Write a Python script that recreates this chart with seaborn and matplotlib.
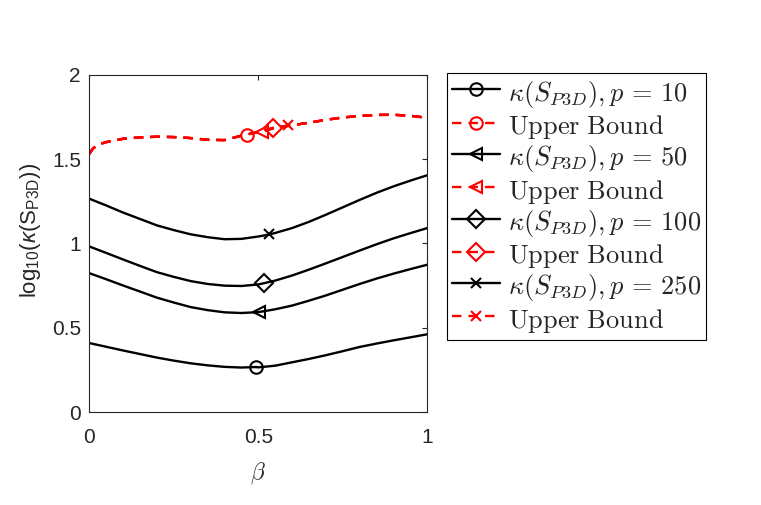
import numpy as np
import pandas as pd
import matplotlib
matplotlib.use('Agg')
import matplotlib.pyplot as plt
from matplotlib.font_manager import FontProperties
import seaborn as sns

# values
beta = [0.00, 0.05, 0.10, 0.15, 0.20, 0.25, 0.30, 0.35, 0.40, 0.45, 0.50,
        0.55, 0.60, 0.65, 0.70, 0.75, 0.80, 0.85, 0.90, 0.95, 1.00]
kappa_p10 = [0.410, 0.388, 0.366, 0.345, 0.324, 0.306, 0.290, 0.278, 0.269, 0.265, 0.266,
             0.276, 0.296, 0.316, 0.338, 0.362, 0.387, 0.407, 0.426, 0.444, 0.462]
kappa_p50 = [0.824, 0.788, 0.751, 0.715, 0.679, 0.650, 0.623, 0.605, 0.592, 0.588, 0.593,
             0.610, 0.632, 0.661, 0.692, 0.726, 0.760, 0.792, 0.821, 0.848, 0.874]
kappa_p100 = [0.982, 0.944, 0.905, 0.867, 0.830, 0.802, 0.777, 0.760, 0.750, 0.748, 0.757,
              0.780, 0.810, 0.845, 0.882, 0.920, 0.958, 0.995, 1.030, 1.061, 1.091]
kappa_p250 = [1.265, 1.225, 1.183, 1.145, 1.107, 1.079, 1.054, 1.037, 1.025, 1.027, 1.041,
              1.062, 1.091, 1.128, 1.170, 1.214, 1.258, 1.300, 1.338, 1.372, 1.404]

bound_beta = [0.00, 0.01, 0.025, 0.05, 0.10, 0.15, 0.20, 0.25, 0.30, 0.35, 0.40, 0.45, 0.50,
              0.55, 0.60, 0.65, 0.70, 0.75, 0.80, 0.85, 0.90, 0.95, 1.00]
upper_bound = [1.530, 1.560, 1.585, 1.600, 1.620, 1.628, 1.632, 1.630, 1.624, 1.614, 1.612,
               1.638, 1.660, 1.685, 1.700, 1.715, 1.732, 1.746, 1.755, 1.761, 1.762, 1.756, 1.744]

p_values = [10, 50, 100, 250]
kappa_series = [kappa_p10, kappa_p50, kappa_p100, kappa_p250]
marker_styles = ['o', '<', 'D', 'x']
kappa_marker_beta = [0.493, 0.503, 0.518, 0.533]
kappa_marker_val = [0.268, 0.594, 0.765, 1.053]
bound_marker_beta = [0.466, 0.510, 0.543, 0.589]
bound_marker_val = [1.645, 1.660, 1.685, 1.700]

x_ticks = [0, 0.5, 1]
x_tick_labels = ['0', '0.5', '1']
y_ticks = [0, 0.5, 1, 1.5, 2]
y_tick_labels = ['0', '0.5', '1', '1.5', '2']

sns.set_style('white')
plt.rcParams['font.family'] = ['Liberation Sans', 'DejaVu Sans']
plt.rcParams['mathtext.rm'] = 'Liberation Sans'
plt.rcParams['mathtext.it'] = 'Liberation Sans:italic'
plt.rcParams['mathtext.bf'] = 'Liberation Sans:bold'

AX_COLOR = '#262626'


def with_marker(xs, ys, mx, my):
    """Insert the marker point into a series and return its index."""
    df = pd.DataFrame({'beta': list(xs) + [mx], 'val': list(ys) + [my]})
    df = df.sort_values('beta').reset_index(drop=True)
    idx = int(df.index[df['beta'] == mx][0])
    return df, idx


fig = plt.figure(figsize=(7.61, 5.05), dpi=100)
ax = fig.add_axes([0.1173, 0.1836, 0.4442, 0.6687])

for i, p in enumerate(p_values):
    m = marker_styles[i]
    ms = 9 if m != 'x' else 7
    df, idx = with_marker(beta, kappa_series[i], kappa_marker_beta[i], kappa_marker_val[i])
    sns.lineplot(data=df, x='beta', y='val', ax=ax, sort=False, estimator=None,
                 color='black', linewidth=1.7, marker=m, markevery=[idx], markersize=ms,
                 markerfacecolor='none', markeredgecolor='black', markeredgewidth=1.5,
                 label=r'$\kappa(S_{P3D}), p\,=\,%d$' % p)
    df, idx = with_marker(bound_beta, upper_bound, bound_marker_beta[i], bound_marker_val[i])
    sns.lineplot(data=df, x='beta', y='val', ax=ax, sort=False, estimator=None,
                 color='red', linewidth=1.7, dashes=(4, 3), marker=m, markevery=[idx],
                 markersize=ms, markerfacecolor='none', markeredgecolor='red',
                 markeredgewidth=1.5, label=r'$\mathrm{Upper\ Bound}$')

ax.set_xlim(0, 1)
ax.set_ylim(0, 2)
ax.set_xticks(x_ticks)
ax.set_xticklabels(x_tick_labels)
ax.set_yticks(y_ticks)
ax.set_yticklabels(y_tick_labels)
ax.tick_params(direction='in', length=3.5, width=0.8, top=True, right=True,
               labelsize=15, colors=AX_COLOR)
ax.tick_params(axis='x', pad=11)
ax.tick_params(axis='y', pad=6)
for sp in ax.spines.values():
    sp.set_color(AX_COLOR)
    sp.set_linewidth(0.8)

ax.set_xlabel(r'$\beta$', fontsize=17, color=AX_COLOR, math_fontfamily='cm', labelpad=10)
ax.set_ylabel(r'log$_{10}$($\kappa$(S$_{\mathrm{P3D}}$))', fontsize=16, color=AX_COLOR,
              math_fontfamily='custom')
ax.yaxis.set_label_coords(-0.137, 0.539)

leg_font = FontProperties(family='DejaVu Serif', size=19, math_fontfamily='cm')
leg = ax.legend(loc='upper left', bbox_to_anchor=(447 / 761, 1 - 73 / 505),
                bbox_transform=fig.transFigure, prop=leg_font, frameon=True,
                fancybox=False, framealpha=1, edgecolor='black', borderpad=0.2,
                handlelength=1.8, handletextpad=0.3, labelspacing=0.07,
                handleheight=1.2, borderaxespad=0)
leg.get_frame().set_linewidth(0.8)

fig.savefig('out.png', dpi=100)
